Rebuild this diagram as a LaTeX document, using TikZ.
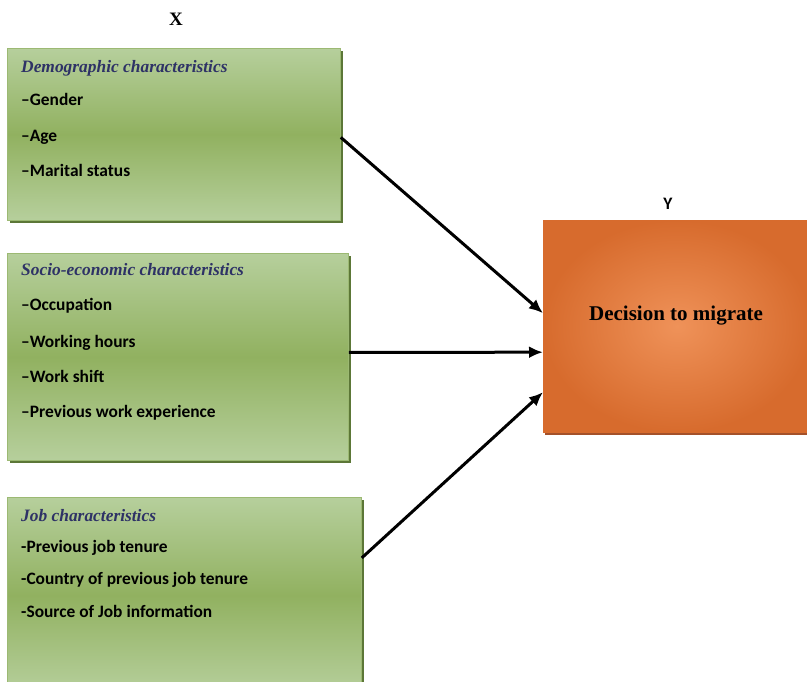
\documentclass[tikz,border=0pt]{standalone}
\usepackage{fontspec}
\setmainfont{Liberation Serif}
\newfontfamily\bodyfont{Carlito}
\usetikzlibrary{arrows.meta,shadows}

\definecolor{boxLight}{HTML}{B6CF9C}
\definecolor{boxDark}{HTML}{91B160}
\definecolor{boxEdge}{HTML}{9CB973}
\definecolor{boxShadow}{HTML}{5C7737}
\definecolor{headBlue}{HTML}{2E3266}
\definecolor{outOuter}{HTML}{D76B2D}
\definecolor{outInner}{HTML}{EF9259}
\definecolor{outShadow}{HTML}{A4512A}

\tikzset{
  greenbox/.style={draw=boxEdge, line width=0.8pt, top color=boxLight, bottom color=boxLight,
    middle color=boxDark, anchor=north west, inner sep=0pt,
    drop shadow={shadow xshift=3pt, shadow yshift=-3pt, fill=boxShadow, opacity=1}},
  outbox/.style={inner color=outInner, outer color=outOuter, anchor=north west, inner sep=0pt,
    drop shadow={shadow xshift=2pt, shadow yshift=-3pt, fill=outShadow, opacity=1}},
  head/.style={anchor=base west, inner sep=0pt, text=headBlue,
    font=\fontsize{17.4}{20}\selectfont\bfseries\itshape},
  item/.style={anchor=base west, inner sep=0pt, font=\bodyfont\fontsize{17.4}{20}\selectfont\bfseries},
  arr/.style={line width=3pt, -{Latex[length=14pt,width=12pt]}}
}

\begin{document}
\begin{tikzpicture}[x=1pt, y=-1pt]
% page frame, px of the reference
\clip (0,0) rectangle (807,682);
\fill[white] (0,0) rectangle (807,682);

% variable labels
\node[font=\fontsize{19}{22}\selectfont\bfseries] (xlab) at (176,19) {X};
\node[font=\bodyfont\fontsize{17.5}{20}\selectfont\bfseries] (ylab) at (668,204) {Y};

% independent variables (baselines)
\node[greenbox, minimum width=333, minimum height=172] (demo) at (7,48) {};
\node[head] (demohead) at (21,73) {Demographic characteristics};
\node[item] (gender) at (21,106) {–Gender};
\node[item] (age)    at (21,142) {–Age};
\node[item] (marital) at (21,177) {–Marital status};

\node[greenbox, minimum width=341, minimum height=207] (socio) at (7,253) {};
\node[head] (sociohead) at (21,276) {Socio-economic characteristics};
\node[item] (occup)  at (21,311) {–Occupation};
\node[item] (hours)  at (21,347) {–Working hours};
\node[item] (shift)  at (21,382) {–Work shift};
\node[item] (prevexp) at (21,417) {–Previous work experience};

\node[greenbox, minimum width=354, minimum height=196] (job) at (7,497) {};
\node[head] (jobhead) at (21,521) {Job characteristics};
\node[item] (tenure)  at (21,552) {-Previous job tenure};
\node[item] (country) at (21,584) {-Country of previous job tenure};
\node[item] (source)  at (21,617) {-Source of Job information};

% dependent variable
\node[outbox, minimum width=268, minimum height=212] (decision) at (543,220) {};
\node[font=\fontsize{21}{25}\selectfont\bfseries] (dectext) at (676,316) {Decision to migrate};

% links
\draw[arr] ([yshift=-3pt]demo.east) -- ([yshift=13pt]decision.west);
\draw[arr] ([yshift=4.5pt]socio.east) -- ([yshift=-26pt]decision.west);
\draw[arr] ([yshift=37.5pt]job.east) -- ([yshift=-66pt]decision.west);
\end{tikzpicture}
\end{document}
